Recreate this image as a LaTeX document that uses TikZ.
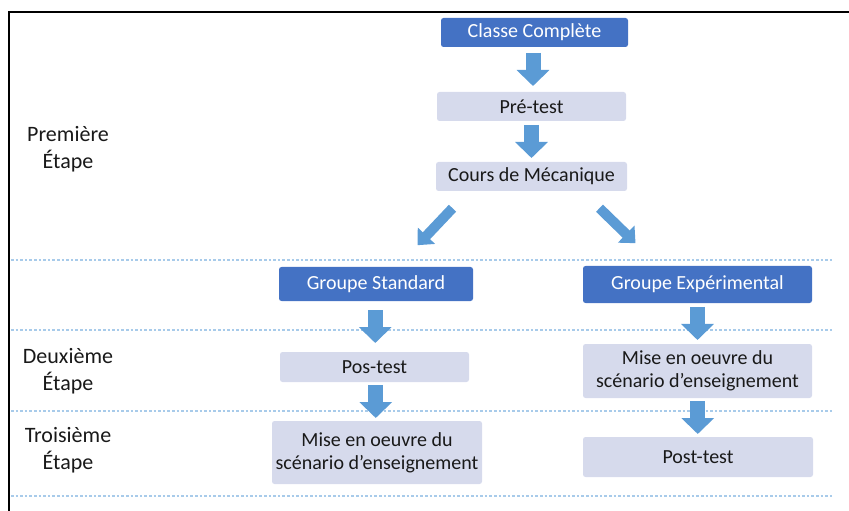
\documentclass[tikz,border=0pt]{standalone}
\usepackage{fontspec}
\setmainfont{Carlito}
\usetikzlibrary{arrows.meta,calc}
\definecolor{darkbox}{HTML}{4472C4}
\definecolor{lightbox}{HTML}{D6DAEC}
\definecolor{arrowblue}{HTML}{5B9BD5}
\definecolor{dotblue}{HTML}{A8CBEA}
\tikzset{
  dbox/.style={fill=darkbox, text=white, rounded corners=2.5bp, inner sep=0pt, align=center,
    font=\fontsize{20bp}{23bp}\selectfont},
  lbox/.style={fill=lightbox, text=black!90, rounded corners=2.5bp, inner sep=0pt, align=center,
    font=\fontsize{20bp}{23bp}\selectfont},
  stagelabel/.style={align=center, inner sep=0pt, text=black!90, font=\fontsize{22bp}{27bp}\selectfont},
  barrow/.style={draw=arrowblue, line width=15bp, -{Triangle[width=32bp,length=16bp,fill=arrowblue]}},
  darrow/.style={draw=arrowblue, line width=10bp, -{Triangle[width=23bp,length=13bp,fill=arrowblue]}},
  sepline/.style={draw=dotblue, line width=1.3bp, dash pattern=on 2.6bp off 2bp},
}
\newcommand\vbarrow[2]{\draw[barrow] ($(#1.south)!0.5!(#2.north)+(0,-16.5)$) -- ($(#1.south)!0.5!(#2.north)+(0,16.5)$);}
\begin{document}
\begin{tikzpicture}[x=1bp,y=-1bp]
\useasboundingbox (0,0) rectangle (849,511);
% frame
\draw[line width=1.6bp, black] (8.8,511) -- (8.8,12) -- (849,12);
% separators
\foreach \yy in {260,330,411,496} \draw[sepline] (11,\yy) -- (832,\yy);
% top chain
\node[dbox, minimum width=187bp, minimum height=29bp] (classe) at (534.5,32.5) {Classe Complète};
\node[lbox, minimum width=189bp, minimum height=29bp] (pre) at (531.5,106.5) {Pré-test};
\node[lbox, minimum width=191bp, minimum height=29bp] (cours) at (531.5,176.5) {Cours de Mécanique};
% groups
\node[dbox, minimum width=194bp, minimum height=34bp] (gs) at (376,284) {Groupe Standard};
\node[dbox, minimum width=229bp, minimum height=37bp] (ge) at (697.5,284.5) {Groupe Expérimental};
\node[lbox, minimum width=189bp, minimum height=30bp] (pos) at (374.5,367) {Pos-test};
\node[lbox, minimum width=210bp, minimum height=63bp] (misel) at (377,452.5) {Mise en oeuvre du\\scénario d’enseignement};
\node[lbox, minimum width=229bp, minimum height=54bp] (miser) at (697.5,371) {Mise en oeuvre du\\scénario d’enseignement};
\node[lbox, minimum width=230bp, minimum height=40bp] (post) at (698,457) {Post-test};
% stage labels
\node[stagelabel] (s1) at (68,149) {Première\\Étape};
\node[stagelabel] (s2) at (68,371) {Deuxième\\Étape};
\node[stagelabel] (s3) at (68,450) {Troisième\\Étape};
% arrows
\vbarrow{classe}{pre}
\vbarrow{pre}{cours}
\vbarrow{gs}{pos}
\vbarrow{pos}{misel}
\vbarrow{ge}{miser}
\vbarrow{miser}{post}
\draw[darrow] ($(cours.south)+(-79,17)$) -- ($(cours.south)+(-114,54)$);
\draw[darrow] ($(cours.south)+(68,17)$) -- ($(cours.south)+(104,52)$);
\end{tikzpicture}
\end{document}
